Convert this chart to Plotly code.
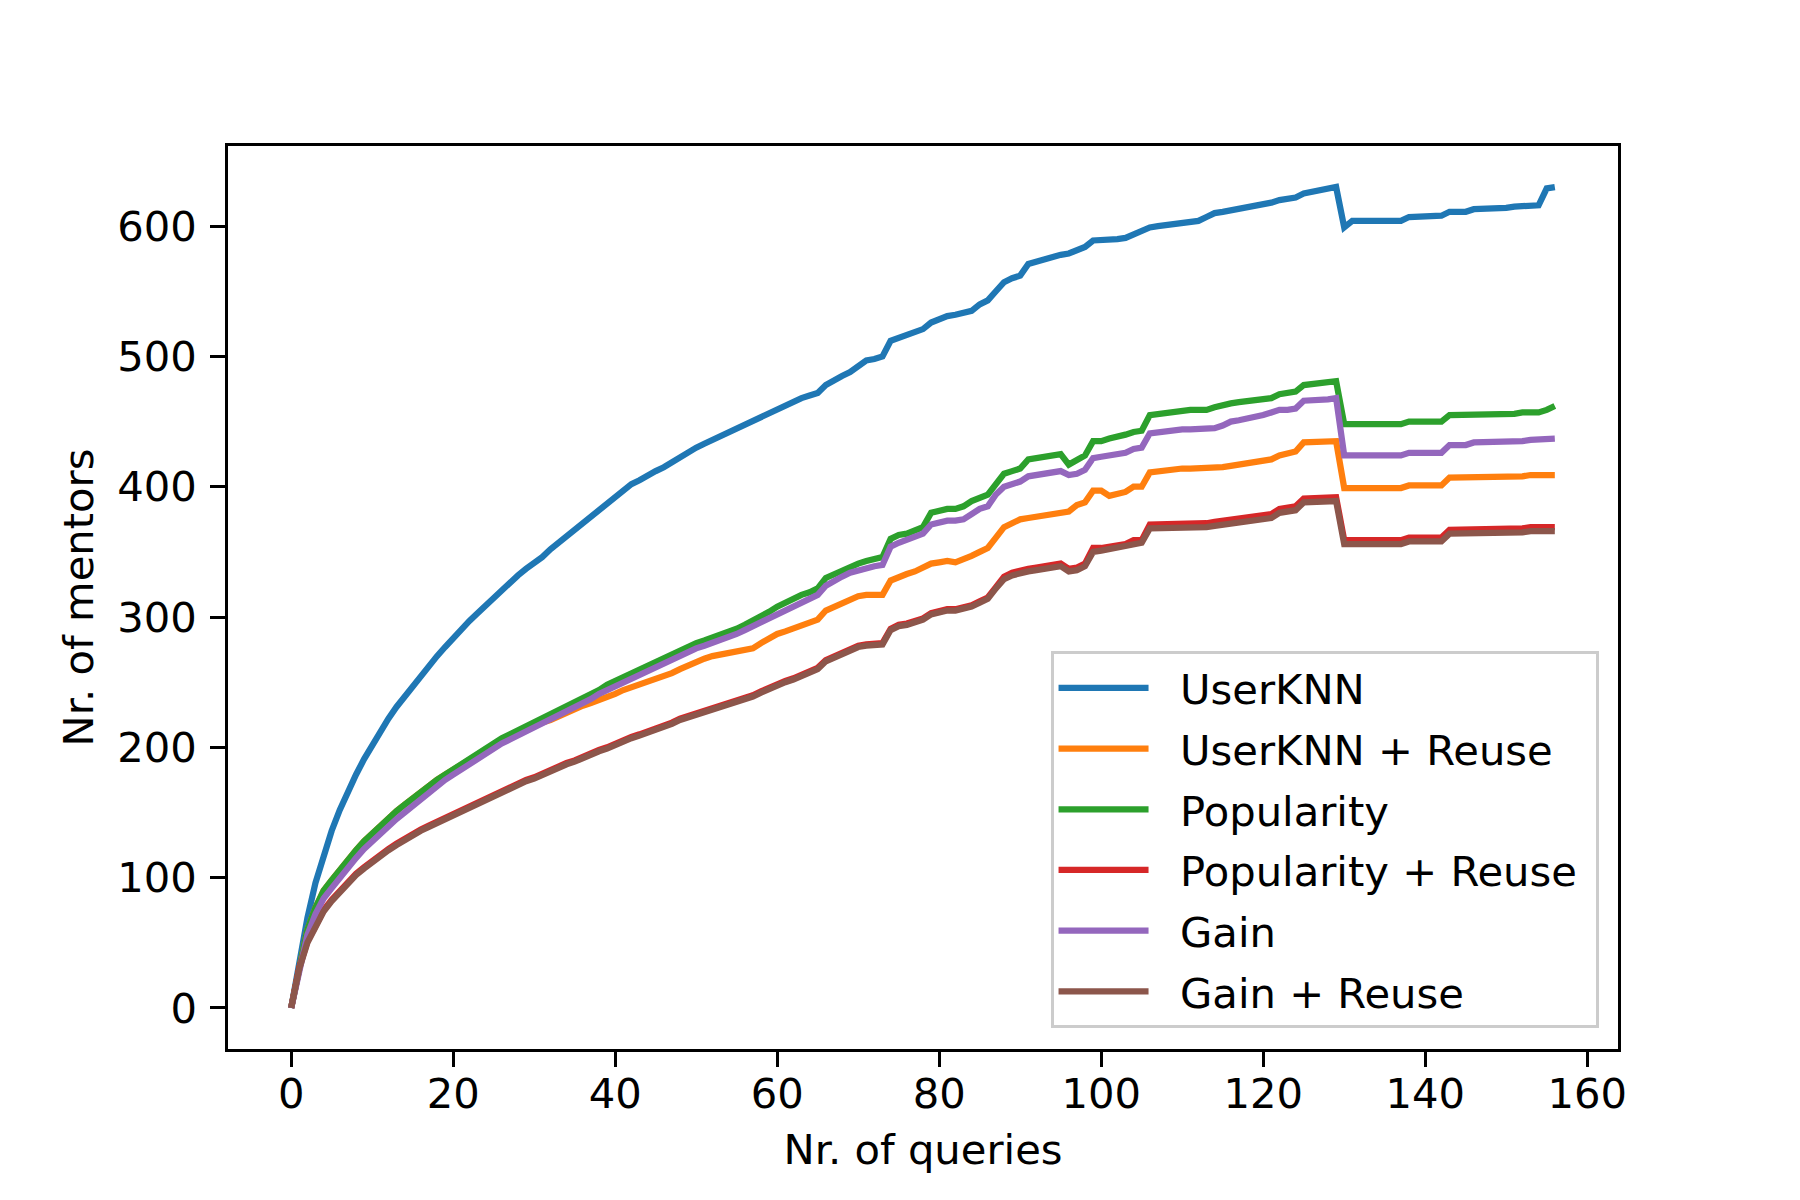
import plotly.graph_objects as go

queries = list(range(157))

userknn = [
    0, 36, 69, 96, 118, 136, 152, 166, 179, 191,
    202, 212, 222, 231, 239, 247, 255, 263, 270, 277,
    284, 290, 297, 303, 309, 315, 321, 327, 332, 337,
    341, 346, 352, 357, 362, 367, 372, 377, 383, 388,
    392, 397, 402, 405, 409, 412, 415, 419, 423, 427,
    430, 433, 436, 439, 442, 445, 447, 450, 454, 457,
    460, 462, 466, 468, 470, 472, 478, 482, 485, 488,
    493, 497, 498, 500, 512, 514, 517, 519, 521, 526,
    529, 531, 532, 534, 535, 540, 543, 550, 557, 560,
    562, 571, 573, 574, 576, 578, 579, 581, 584, 589,
    589, 589, 590, 591, 594, 596, 599, 600, 601, 602,
    603, 604, 604, 607, 610, 611, 612, 614, 615, 616,
    617, 618, 620, 621, 622, 625, 626, 627, 628, 630,
    599, 604, 604, 604, 604, 604, 604, 604, 607, 607,
    607, 608, 608, 611, 611, 611, 613, 613, 613, 614,
    614, 615, 615, 615, 616, 629, 630,
]

userknn_reuse = [
    0, 32, 60, 77, 90, 98, 106, 113, 121, 128,
    134, 140, 146, 151, 156, 161, 166, 171, 175, 179,
    183, 187, 191, 195, 199, 202, 205, 208, 211, 214,
    216, 219, 221, 224, 226, 229, 232, 234, 236, 239,
    241, 244, 246, 248, 250, 252, 254, 257, 260, 263,
    266, 268, 270, 271, 272, 274, 275, 276, 280, 284,
    287, 289, 291, 293, 295, 298, 305, 308, 310, 313,
    316, 317, 317, 317, 328, 331, 333, 335, 338, 341,
    342, 343, 342, 344, 347, 350, 353, 361, 369, 372,
    375, 376, 377, 378, 380, 381, 381, 386, 388, 397,
    397, 393, 394, 396, 400, 400, 411, 412, 413, 414,
    414, 414, 414, 414, 414, 415, 416, 417, 417, 419,
    420, 421, 424, 426, 427, 434, 434, 434, 435, 435,
    399, 399, 399, 399, 399, 399, 399, 399, 401, 401,
    401, 401, 401, 407, 407, 407, 407, 407, 408, 408,
    408, 408, 408, 409, 409, 409, 409,
]

popularity = [
    0, 32, 60, 77, 90, 98, 106, 113, 121, 128,
    134, 140, 146, 151, 156, 161, 166, 171, 175, 179,
    183, 187, 192, 196, 200, 204, 207, 210, 213, 216,
    219, 222, 226, 229, 232, 235, 238, 241, 244, 248,
    251, 254, 257, 260, 263, 265, 268, 271, 274, 277,
    280, 282, 284, 286, 288, 291, 294, 297, 301, 304,
    308, 311, 315, 317, 319, 322, 330, 333, 335, 338,
    341, 343, 345, 346, 360, 363, 364, 367, 369, 380,
    382, 383, 383, 385, 389, 392, 394, 402, 410, 412,
    414, 421, 422, 423, 424, 425, 417, 420, 424, 435,
    435, 437, 438, 440, 442, 443, 455, 456, 457, 457,
    458, 459, 459, 459, 461, 463, 464, 465, 466, 467,
    467, 468, 471, 472, 473, 478, 479, 479, 480, 481,
    448, 448, 448, 448, 448, 448, 448, 448, 450, 450,
    450, 450, 450, 455, 455, 455, 455, 455, 456, 456,
    456, 456, 457, 457, 457, 459, 462,
]

popularity_reuse = [
    0, 31, 51, 64, 75, 83, 90, 96, 103, 108,
    113, 117, 122, 126, 130, 134, 137, 140, 143, 146,
    149, 152, 155, 158, 161, 164, 167, 170, 172, 175,
    177, 180, 182, 185, 188, 190, 193, 196, 198, 200,
    203, 205, 208, 210, 212, 215, 217, 219, 222, 224,
    226, 228, 230, 232, 233, 235, 237, 240, 243, 246,
    248, 251, 253, 256, 258, 261, 267, 270, 272, 275,
    278, 279, 280, 280, 291, 294, 295, 297, 299, 303,
    305, 306, 306, 307, 309, 312, 315, 323, 331, 334,
    336, 337, 338, 339, 340, 341, 337, 338, 341, 353,
    353, 354, 355, 356, 359, 359, 371, 371, 371, 372,
    372, 372, 372, 372, 373, 374, 375, 375, 376, 377,
    378, 379, 383, 384, 385, 391, 391, 392, 392, 392,
    359, 359, 359, 359, 359, 359, 359, 359, 361, 361,
    361, 361, 361, 367, 367, 367, 367, 367, 368, 368,
    368, 368, 368, 369, 369, 369, 369,
]

gain = [
    0, 31, 56, 72, 84, 92, 100, 107, 115, 122,
    128, 134, 140, 145, 150, 155, 161, 166, 170, 175,
    179, 183, 188, 192, 196, 200, 203, 206, 209, 212,
    215, 218, 222, 225, 228, 231, 234, 237, 241, 244,
    247, 250, 253, 256, 259, 262, 265, 268, 271, 273,
    276, 278, 280, 282, 284, 287, 290, 293, 297, 300,
    303, 306, 309, 312, 314, 317, 324, 328, 331, 334,
    336, 338, 339, 340, 354, 357, 359, 362, 364, 371,
    373, 374, 374, 375, 379, 383, 385, 394, 400, 402,
    404, 408, 409, 410, 411, 412, 409, 410, 413, 422,
    423, 424, 424, 426, 429, 430, 441, 442, 443, 443,
    444, 444, 444, 444, 445, 447, 450, 451, 452, 453,
    455, 457, 459, 459, 460, 466, 466, 467, 467, 468,
    424, 424, 424, 424, 424, 424, 424, 424, 426, 426,
    426, 426, 426, 432, 432, 432, 434, 434, 435, 435,
    435, 435, 435, 436, 436, 436, 437,
]

gain_reuse = [
    0, 30, 50, 63, 74, 82, 89, 95, 102, 107,
    112, 116, 121, 125, 129, 133, 136, 139, 142, 145,
    148, 151, 154, 157, 160, 163, 166, 169, 171, 174,
    176, 179, 181, 184, 187, 189, 192, 195, 197, 199,
    202, 204, 207, 209, 211, 214, 216, 218, 221, 223,
    225, 227, 229, 231, 232, 234, 236, 239, 242, 245,
    247, 250, 252, 255, 257, 260, 266, 269, 271, 274,
    277, 278, 279, 279, 290, 293, 294, 296, 298, 302,
    304, 305, 305, 306, 308, 311, 314, 322, 329, 332,
    334, 335, 336, 337, 338, 339, 335, 336, 339, 350,
    351, 352, 353, 354, 356, 357, 368, 368, 368, 369,
    369, 369, 369, 369, 370, 371, 372, 372, 373, 374,
    375, 376, 380, 381, 382, 388, 388, 389, 389, 389,
    356, 356, 356, 356, 356, 356, 356, 356, 358, 358,
    358, 358, 358, 364, 364, 364, 364, 364, 365, 365,
    365, 365, 365, 366, 366, 366, 366,
]

series_names = ["UserKNN", "UserKNN + Reuse", "Popularity",
                "Popularity + Reuse", "Gain", "Gain + Reuse"]
series_values = [userknn, userknn_reuse, popularity,
                 popularity_reuse, gain, gain_reuse]
colors = ["#1f77b4", "#ff7f0e", "#2ca02c", "#d62728", "#9467bd", "#8c564b"]

x_ticks = [0, 20, 40, 60, 80, 100, 120, 140, 160]
y_ticks = [0, 100, 200, 300, 400, 500, 600]

FONT = "DejaVu Sans"
FS = 41.7
NBSP = "\u00a0"

fig = go.Figure()
for i, (name, vals, col) in enumerate(zip(series_names, series_values, colors)):
    fig.add_trace(go.Scatter(
        x=queries, y=vals, mode="lines", name=NBSP * 2 + name + NBSP,
        line=dict(color=col, width=6.25),
        legendgroup=f"g{i}",
    ))

all_y = [v for s in series_values for v in s]
ymin, ymax = min(all_y), max(all_y)
ypad = 0.05 * (ymax - ymin)
xmin, xmax = min(queries), max(queries)
xpad = 0.05 * (xmax - xmin)

axis_common = dict(
    showgrid=False, zeroline=False, showline=True, mirror=True,
    linecolor="black", linewidth=3.3, ticks="outside", ticklen=14.6,
    tickwidth=3.3, tickcolor="black",
    tickfont=dict(family=FONT, size=FS, color="black"),
)

fig.update_layout(
    width=1800, height=1200,
    margin=dict(l=220, r=190, t=138, b=159, pad=0),
    paper_bgcolor="white", plot_bgcolor="white",
    font=dict(family=FONT, size=FS, color="black"),
    xaxis=dict(range=[xmin - xpad, xmax + xpad], tickmode="array",
               tickvals=x_ticks, ticklabelstandoff=-9,
               title=dict(text="Nr. of queries", font=dict(family=FONT, size=FS),
                          standoff=19),
               **axis_common),
    yaxis=dict(range=[ymin - ypad, ymax + ypad], tickmode="array",
               tickvals=y_ticks, ticklabelstandoff=5,
               title=dict(text="Nr. of mentors", font=dict(family=FONT, size=FS),
                          standoff=11),
               **axis_common),
    legend=dict(
        x=0.986, y=0.023, xanchor="right", yanchor="bottom",
        bgcolor="rgba(255,255,255,0.8)", bordercolor="#cccccc", borderwidth=3,
        font=dict(family=FONT, size=FS, color="black"),
        tracegroupgap=3.5, itemwidth=90, traceorder="grouped",
    ),
    showlegend=True,
)

fig.write_html("out.html")
